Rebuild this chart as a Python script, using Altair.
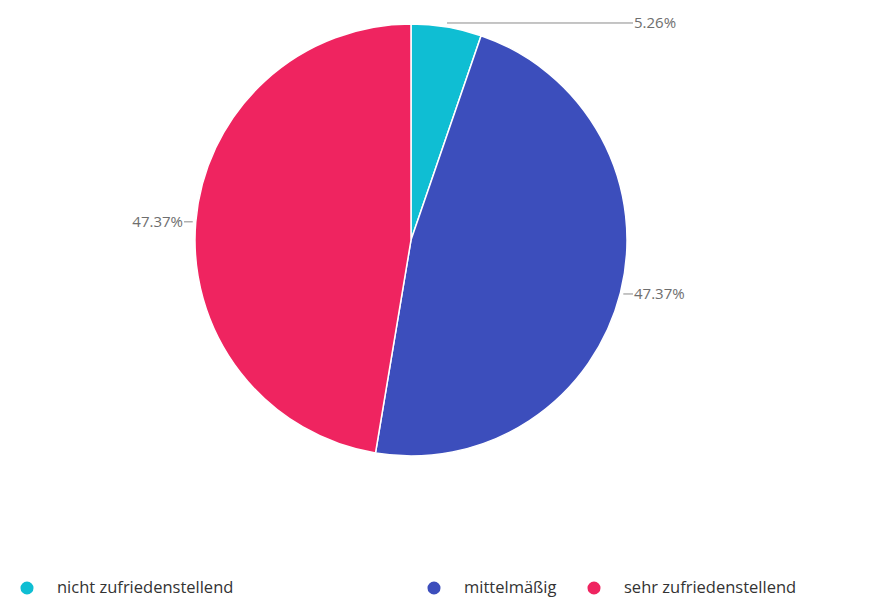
import math
import altair as alt
import pandas as pd

# ---- data ----
categories = ["nicht zufriedenstellend", "mittelmäßig", "sehr zufriedenstellend"]
values = [5.26, 47.37, 47.37]
labels = ["5.26%", "47.37%", "47.37%"]
colors = ["#0FBED3", "#3C4EBC", "#EF2460"]

# ---- layout ----
W, H = 869, 599
CX, CY, R = 403, 232, 216
FONT = "Open Sans"

df = pd.DataFrame({"category": categories, "value": values, "idx": range(len(values))})

# leader lines / labels derived from the slice angles
total = sum(values)
rows = []
cum = 0.0
for cat, v, lab in zip(categories, values, labels):
    mid = (cum + v / 2) / total * 2 * math.pi
    cum += v
    sx = CX + (R + 3) * math.sin(mid)
    sy = CY - (R + 4) * math.cos(mid)
    right = math.sin(mid) >= 0
    ex = CX + (R + 6) if right else CX - (R + 11)
    rows.append({"category": cat, "label": lab, "x": sx, "y": sy, "x2": ex,
                 "tx": ex + (1 if right else -1), "side": "right" if right else "left"})
lead = pd.DataFrame(rows)

xs = alt.Scale(domain=[0, W])
ys = alt.Scale(domain=[0, H], reverse=True)
cscale = alt.Scale(domain=categories, range=colors)

pie = alt.Chart(df).mark_arc(outerRadius=R, stroke="white", strokeWidth=1.5).encode(
    theta=alt.Theta("value:Q", stack=True),
    color=alt.Color("category:N", scale=cscale, legend=None),
    order=alt.Order("idx:Q"),
    x=alt.value(CX),
    y=alt.value(CY),
)

rules = alt.Chart(lead).mark_rule(color="#8a8a8a", strokeWidth=1).encode(
    x=alt.X("x:Q", scale=xs, axis=None),
    x2="x2:Q",
    y=alt.Y("y:Q", scale=ys, axis=None),
)

text_r = alt.Chart(lead[lead.side == "right"]).mark_text(
    align="left", baseline="middle", font=FONT, fontSize=15, color="#6e6e6e"
).encode(
    x=alt.X("tx:Q", scale=xs, axis=None),
    y=alt.Y("y:Q", scale=ys, axis=None),
    text="label:N",
)
text_l = alt.Chart(lead[lead.side == "left"]).mark_text(
    align="right", baseline="middle", font=FONT, fontSize=15, color="#6e6e6e"
).encode(
    x=alt.X("tx:Q", scale=xs, axis=None),
    y=alt.Y("y:Q", scale=ys, axis=None),
    text="label:N",
)

# legend
leg = pd.DataFrame({"category": categories, "lx": [19, 426, 586], "ly": [580, 580, 580]})
leg["tx"] = leg["lx"] + 30
leg_pts = alt.Chart(leg).mark_point(filled=True, shape="circle", size=170, opacity=1).encode(
    x=alt.X("lx:Q", scale=xs, axis=None),
    y=alt.Y("ly:Q", scale=ys, axis=None),
    color=alt.Color("category:N", scale=cscale, legend=None),
)
leg_txt = alt.Chart(leg).mark_text(
    align="left", baseline="middle", font=FONT, fontSize=16.5, color="#333333"
).encode(
    x=alt.X("tx:Q", scale=xs, axis=None),
    y=alt.Y("ly:Q", scale=ys, axis=None),
    text="category:N",
)

chart = alt.layer(pie, rules, text_r, text_l, leg_pts, leg_txt).properties(
    width=W, height=H, padding=0, autosize=alt.AutoSizeParams(type="none")
).configure_view(stroke=None)

chart.save("out.html", embed_options={"renderer": "svg", "actions": False})
